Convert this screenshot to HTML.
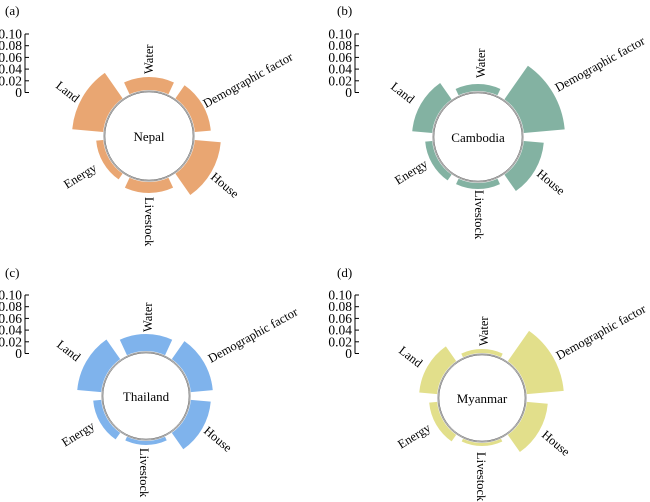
<!DOCTYPE html>
<html><head><meta charset="utf-8"><style>
html,body{margin:0;padding:0;background:#fff;}
svg{display:block;}
svg text{font-family:"Liberation Serif","Times New Roman",serif;}
</style></head><body>
<svg id="s" width="650" height="502" viewBox="0 0 650 502" xmlns="http://www.w3.org/2000/svg" font-family="Liberation Serif, serif">
<text x="5" y="15" font-size="13">(a)</text>
<text x="337" y="15" font-size="13">(b)</text>
<text x="5" y="277" font-size="13">(c)</text>
<text x="337" y="277" font-size="13">(d)</text>
</svg>
<script>
const s=document.getElementById('s');const NS='http://www.w3.org/2000/svg';
function el(t,a,txt){const e=document.createElementNS(NS,t);for(const k in a)e.setAttribute(k,a[k]);if(txt)e.textContent=txt;s.appendChild(e);return e;}
const starts=[-115,-55,5,65,125,185];
const panels=[
 {c:[149,136],r:45,col:'#e9a672',R:[59,62,72,57,53,77],ax:[25,34],
  L:[[153,74,-90],[206,108,-29],[55,87,38],[210,178,40],[67,189,-32],[145,197,90]],name:'Nepal'},
 {c:[478,137],r:45,col:'#83b2a2',R:[53,87,66,52,53,66],ax:[355,34],
  L:[[485,78,-90],[558,92,-29],[390,88,38],[536,175,40],[398,185,-32],[475,190,90]],name:'Cambodia'},
 {c:[146,396],r:44,col:'#7fb3ec',R:[62,67,65,49,53,69],ax:[25,295],
  L:[[152,332,-90],[211,363,-29],[56,346,38],[203,432,40],[65,447,-32],[140,448,90]],name:'Thailand'},
 {c:[482,398],r:44,col:'#e2df8b',R:[49,82,66,48,53,63],ax:[355,295],
  L:[[488,346,-90],[559,360,-29],[398,352,38],[541,436,40],[401,449,-32],[477,452,90]],name:'Myanmar'}];
const names=['Water','Demographic factor','Land','House','Energy','Livestock'];
panels.forEach(p=>{
 const [cx,cy]=p.c;const r0=p.r+1;
 p.R.forEach((R,i)=>{const a1=starts[i]*Math.PI/180,a2=(starts[i]+50)*Math.PI/180;
  const P=(r,a)=>(cx+r*Math.cos(a)).toFixed(2)+','+(cy+r*Math.sin(a)).toFixed(2);
  el('path',{d:`M${P(r0,a1)} L${P(R,a1)} A${R},${R} 0 0 1 ${P(R,a2)} L${P(r0,a2)} A${r0},${r0} 0 0 0 ${P(r0,a1)}Z`,fill:p.col});});
 el('circle',{cx,cy,r:p.r,fill:'#fff',stroke:'#a0a0a0','stroke-width':1.2});
 el('circle',{cx,cy,r:p.r-1,fill:'none',stroke:'#555','stroke-width':0.5});
 el('text',{x:cx,y:cy+5,'font-size':13,'text-anchor':'middle','font-family':'Liberation Serif, serif'},p.name);
 p.L.forEach((l,i)=>{el('text',{x:l[0],y:l[1],'font-size':12.5,'font-family':'Liberation Serif, serif',transform:`rotate(${l[2]} ${l[0]} ${l[1]})`},names[i]);});
 const [ax,ay]=p.ax;const step=11.7;
 el('line',{x1:ax,y1:ay,x2:ax,y2:ay+5*step,stroke:'#000','stroke-width':1});
 ['0.10','0.08','0.06','0.04','0.02','0'].forEach((t,k)=>{const y=ay+k*step;
  el('line',{x1:ax,y1:y,x2:ax+4,y2:y,stroke:'#000','stroke-width':1});
  el('text',{x:ax-3,y:y+4.5,'font-size':13.5,'text-anchor':'end','font-family':'Liberation Serif, serif'},t);});
});
</script>
</body></html>
